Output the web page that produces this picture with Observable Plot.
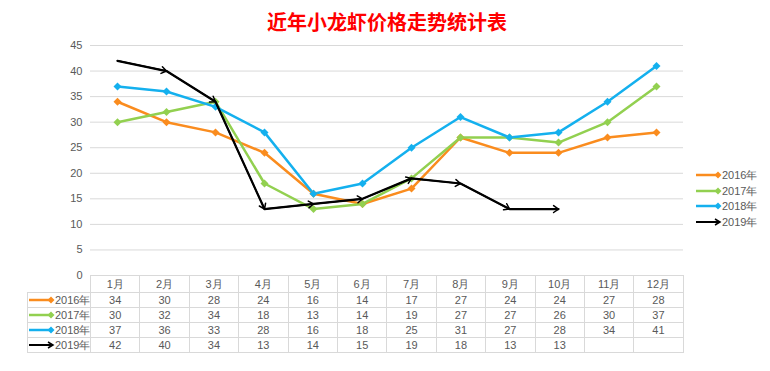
<!DOCTYPE html>
<html><head><meta charset="utf-8">
<script src="https://cdn.jsdelivr.net/npm/d3@7"></script>
<script src="https://cdn.jsdelivr.net/npm/@observablehq/plot@0.6"></script>
<style>
body{margin:0;background:#fff;font-family:"Liberation Sans",Arial,sans-serif;}
#wrap{position:relative;width:770px;height:371px;overflow:hidden;}
#title{position:absolute;left:0;top:7px;width:774px;text-align:center;font-family:"Noto Sans CJK SC",sans-serif;font-weight:bold;font-size:20px;line-height:30px;color:#ff0000;}
#chart{position:absolute;left:0;top:36px;}
#tbl{position:absolute;left:27px;top:275px;border-collapse:collapse;table-layout:fixed;width:656px;font-size:11px;color:#595959;}
#tbl td{border:1px solid #d9d9d9;text-align:center;padding:0;height:14px;line-height:14px;white-space:nowrap;overflow:hidden;}
#tbl tr.hd td{height:16px;}
#tbl td.blank{border-top:none;border-left:none;}
#tbl td.lab{text-align:right;padding-right:1px;}
#tbl td.lab svg{float:left;margin-left:1px;margin-top:2px;}
#legend{position:absolute;left:696px;top:168px;font-size:11px;color:#595959;}
#legend div{height:15.7px;line-height:15px;white-space:nowrap;}
#legend svg{vertical-align:middle;margin-top:-2px;}
</style></head>
<body><div id="wrap">
<div id="title"></div>
<div id="chart"></div>
<table id="tbl"></table>
<div id="legend"></div>
</div>
<script>
const titleText = "近年小龙虾价格走势统计表";
const months = ["1月","2月","3月","4月","5月","6月","7月","8月","9月","10月","11月","12月"];
const years = ["2016年","2017年","2018年","2019年"];
const v2016 = [34,30,28,24,16,14,17,27,24,24,27,28];
const v2017 = [30,32,34,18,13,14,19,27,27,26,30,37];
const v2018 = [37,36,33,28,16,18,25,31,27,28,34,41];
const v2019 = [42,40,34,13,14,15,19,18,13,13];
const colors = ["#FA8C1E","#92D050","#14B0EE","#000000"];
const yTicks = [0,5,10,15,20,25,30,35,40,45];

const series = [v2016, v2017, v2018, v2019];
document.getElementById("title").textContent = titleText;

const diamondData = [];
[v2016, v2017, v2018].forEach((vals, i) => vals.forEach((v, j) => diamondData.push({year: years[i], month: months[j], value: v})));
const data2019 = v2019.map((v, j) => ({month: months[j], value: v}));
const segs = [];
for (let j = 1; j < v2019.length; j++) segs.push({m1: months[j-1], v1: v2019[j-1], m2: months[j], v2: v2019[j]});

const diamond = {draw(ctx, size){ const r = Math.sqrt(size/Math.PI); ctx.moveTo(0,-r); ctx.lineTo(r,0); ctx.lineTo(0,r); ctx.lineTo(-r,0); ctx.closePath(); }};

const plot = Plot.plot({
  width: 770, height: 244,
  marginLeft: 90, marginRight: 87, marginTop: 9, marginBottom: 5,
  style: {color: "#595959", fontSize: "11px", fontFamily: "Liberation Sans, Arial, sans-serif", background: "transparent"},
  x: {type: "point", domain: months, padding: 0.5, axis: null},
  y: {domain: [0, 45], ticks: yTicks, tickSize: 0, tickPadding: 8, label: null},
  color: {domain: years, range: colors},
  marks: [
    Plot.ruleY(yTicks, {stroke: "#d9d9d9", strokeWidth: 1}),
    Plot.line(diamondData, {x: "month", y: "value", z: "year", stroke: "year", strokeWidth: 2.5}),
    Plot.dot(diamondData, {x: "month", y: "value", fill: "year", symbol: diamond, r: 4, stroke: null}),
    Plot.line(data2019, {x: "month", y: "value", stroke: "#000", strokeWidth: 2.2}),
    Plot.arrow(segs, {x1: "m1", y1: "v1", x2: "m2", y2: "v2", stroke: "#000", strokeWidth: 1.5, headLength: 6, headAngle: 70})
  ]
});
document.getElementById("chart").appendChild(plot);

function icon(i){
  const c = colors[i];
  if (i === 3) return `<svg width="26" height="10"><line x1="0" y1="5" x2="23" y2="5" stroke="${c}" stroke-width="2"/><path d="M19,2 L24,5 L19,8" fill="none" stroke="${c}" stroke-width="1.5"/></svg>`;
  return `<svg width="26" height="10"><line x1="0" y1="5" x2="22" y2="5" stroke="${c}" stroke-width="2.5"/><path d="M22,1.5 L25.5,5 L22,8.5 L18.5,5 Z" fill="${c}"/></svg>`;
}

let html = `<colgroup><col style="width:63px">${months.map(()=>'<col style="width:49.4px">').join("")}</colgroup>`;
html += `<tr class="hd"><td class="blank"></td>${months.map(m=>`<td>${m}</td>`).join("")}</tr>`;
series.forEach((vals, i) => {
  html += `<tr><td class="lab">${icon(i)}${years[i]}</td>${months.map((m, j)=>`<td>${vals[j] !== undefined ? vals[j] : ""}</td>`).join("")}</tr>`;
});
document.getElementById("tbl").innerHTML = html;

document.getElementById("legend").innerHTML = years.map((y, i) => `<div>${icon(i)}${y}</div>`).join("");
</script>
</body></html>
